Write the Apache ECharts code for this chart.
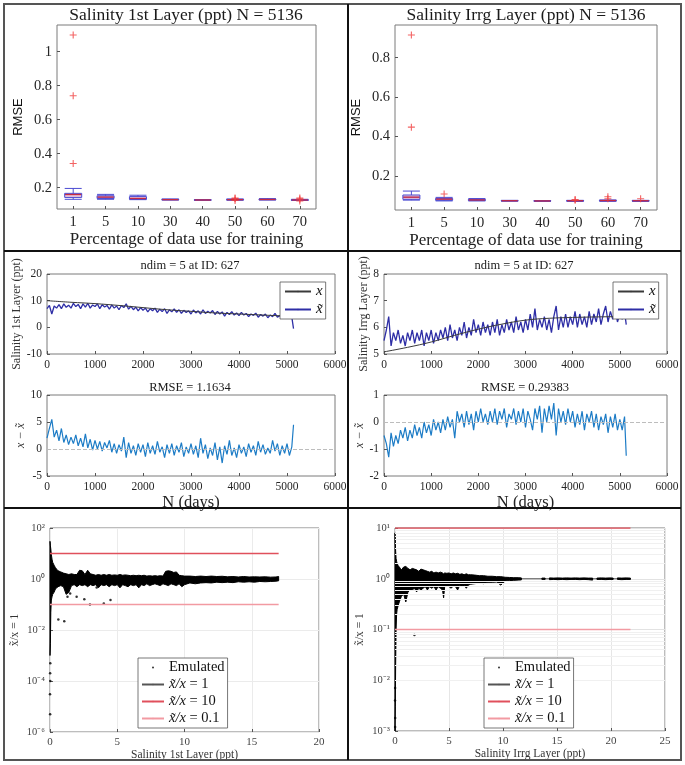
<!DOCTYPE html>
<html><head><meta charset="utf-8">
<script src="https://cdn.jsdelivr.net/npm/echarts@6/dist/echarts.min.js"></script>
<style>html,body{margin:0;padding:0;background:#fff}#c{width:685px;height:765px}</style>
</head><body><div id="c"></div>
<script>
// ---------- data ----------
const trainPct = ['1','5','10','30','40','50','60','70'];
// [min, Q1, median, Q3, max]
const rmse1Box = [[0.132,0.143,0.160,0.167,0.196],[0.132,0.137,0.145,0.153,0.161],[0.130,0.132,0.137,0.148,0.156],[0.128,0.129,0.130,0.132,0.134],[0.126,0.127,0.128,0.129,0.130],[0.127,0.128,0.130,0.132,0.134],[0.128,0.129,0.131,0.133,0.136],[0.125,0.126,0.128,0.130,0.132]];
const rmse1Out = [['1',1.098],['1',0.741],['1',0.343],['50',0.140],['50',0.125],['50',0.136],['70',0.139],['70',0.122],['70',0.133]];
const rmse2Box = [[0.078,0.082,0.093,0.104,0.124],[0.074,0.077,0.083,0.087,0.092],[0.074,0.076,0.079,0.082,0.086],[0.073,0.074,0.075,0.076,0.077],[0.072,0.073,0.074,0.075,0.076],[0.072,0.073,0.075,0.076,0.077],[0.072,0.074,0.076,0.077,0.079],[0.072,0.073,0.075,0.076,0.077]];
const rmse2Out = [['1',0.915],['1',0.448],['5',0.109],['50',0.081],['50',0.077],['60',0.095],['60',0.085],['70',0.085]];

const dayStep = 50, lastDay = 5136;
const coarseDays = [0,500,1000,1500,2000,2500,3000,3500,4000,4500,5000,5136];
const x1Coarse = [10,9.4,8.9,8.2,7.4,6.6,6.0,5.4,5.0,4.6,4.2,4.0];
const x2Coarse = [5.08,5.25,5.45,5.7,5.93,6.12,6.27,6.34,6.37,6.39,6.4,6.4];
const xt1 = [7.0,8.2,5.0,8.0,7.2,8.5,7.0,8.8,7.5,8.3,
 7.2,9.0,7.8,8.6,7.0,8.8,7.6,9.0,7.2,8.4,
 7.8,8.8,7.0,8.5,7.6,8.2,6.8,8.4,7.2,8.0,
 6.6,8.2,7.4,8.8,6.8,7.9,6.6,7.6,6.2,7.4,
 6.4,7.2,5.8,7.0,6.2,7.2,5.6,6.8,5.9,7.0,
 5.2,6.6,5.8,6.9,5.6,6.6,5.2,6.4,5.6,6.2,
 5.0,6.5,5.4,6.2,5.0,6.6,5.2,6.0,5.4,6.3,
 4.8,6.0,5.0,5.8,4.2,5.6,4.8,5.9,4.6,5.4,
 4.4,5.6,4.6,5.2,4.0,5.0,4.5,5.3,3.8,4.8,
 4.2,5.0,3.6,4.6,4.0,5.2,3.8,4.4,4.0,5.0,
 3.6,4.4,3.8,-0.5];
const res1 = [2.0,3.8,5.5,2.2,3.5,1.5,3.8,1.2,2.6,0.8,
 2.2,1.0,2.6,0.6,2.0,0.4,2.8,0.2,1.8,-0.2,
 1.6,0.0,1.4,-0.4,1.2,0.2,1.6,-0.6,1.0,-0.8,
 0.8,-0.4,2.2,-1.6,1.2,-0.8,0.6,-1.2,1.0,-0.6,
 0.8,-1.4,1.2,-0.8,0.6,-1.0,1.4,-0.6,0.4,-1.6,
 0.8,-0.8,1.0,-1.2,0.6,-0.6,1.2,-1.4,0.4,-0.8,
 1.0,-1.0,0.6,-1.6,2.0,-0.8,0.8,-1.8,0.2,-1.2,
 1.2,-2.0,0.4,-2.6,0.6,-1.0,1.6,-1.2,0.2,-1.6,
 0.8,-0.8,0.4,-1.4,1.0,-0.6,0.6,-1.2,1.4,-0.6,
 0.8,-1.0,0.2,-0.8,1.6,-0.4,1.0,-1.2,0.6,-0.8,
 1.0,-1.2,0.4,4.5];
const xt2 = [5.5,5.9,6.4,5.3,5.8,5.5,5.9,5.4,5.7,5.3,
 5.8,5.5,5.9,5.4,5.8,5.5,5.9,5.3,5.8,5.5,
 5.9,5.4,5.8,5.5,5.9,5.6,6.0,5.5,6.1,5.6,
 5.9,5.5,6.0,5.7,6.2,5.6,6.0,5.7,6.3,5.8,
 6.1,5.7,6.2,5.8,6.1,5.7,6.2,5.8,6.3,5.7,
 6.1,5.8,6.3,5.9,6.2,5.8,6.4,5.9,6.2,5.8,
 6.3,5.9,6.5,6.0,6.7,5.9,6.3,6.0,6.4,5.9,
 6.3,5.8,6.4,6.8,5.9,6.4,6.0,6.5,6.0,6.4,
 6.1,6.6,6.0,6.5,6.1,6.4,6.0,6.6,6.1,6.5,
 6.2,6.7,6.1,6.5,6.8,6.2,6.6,6.3,6.7,6.2,
 6.5,6.3,6.6,6.1];
const res2 = [-0.5,-0.8,-1.3,-0.4,-0.9,-0.5,-0.8,-0.3,-0.6,-0.2,
 -0.7,-0.3,-0.6,-0.1,-0.5,-0.2,-0.6,0.0,-0.4,-0.1,
 -0.5,0.1,-0.3,0.0,-0.4,0.1,-0.3,0.2,-0.2,0.1,
 -0.6,0.4,0.0,0.3,-0.2,0.4,-0.1,0.3,-0.3,0.4,
 0.0,0.5,0.0,0.3,-0.1,0.4,0.0,0.5,-0.1,0.4,
 0.1,0.5,-0.2,0.3,0.1,0.5,-0.1,0.4,0.0,0.5,
 -0.2,0.4,0.1,-0.3,0.5,0.1,0.6,-0.4,0.5,0.0,
 0.6,0.1,0.7,-0.5,0.5,0.0,0.4,-0.1,0.5,0.0,
 0.4,-0.2,0.3,-0.1,0.4,-0.3,0.3,0.0,0.4,-0.2,
 0.3,-0.3,0.2,-0.1,0.3,-0.4,0.2,-0.2,0.3,-0.3,
 0.1,-0.3,0.2,-1.25];

// emulated ratio bands (x position, upper and lower envelope of the dots)
const band1X  = [0,0.03,0.06,0.1,0.15,0.2,0.3,0.4,0.5,0.6,0.8,1.0,1.2,1.4,1.6,1.8,2.0,2.2,2.4,2.6,2.8,3.0,3.2,3.4,3.6,3.8,4.0,4.2,4.4,4.6,4.8,5.0,5.2,5.4,5.6,5.8,6.0,6.2,6.4,6.6,6.8,7.0,7.2,7.4,7.6,7.8,8.0,8.2,8.4,8.6,8.8,9.0,9.2,9.4,9.6,9.8,10.0,10.4,10.8,11.2,11.6,12.0,12.4,12.8,13.2,13.6,14.0,14.4,14.8,15.2,15.6,16.0,16.4,16.8,17.0];
const band1Hi = [30,20,15,9,6,4.5,3.5,2.8,2.4,2.1,1.9,1.7,1.6,1.5,1.6,1.5,1.5,2.2,2.1,1.5,2.2,1.6,1.5,1.4,1.5,1.4,1.5,1.4,1.5,1.4,1.45,1.4,1.5,1.4,1.45,1.4,1.35,1.4,1.35,1.4,1.35,1.4,1.3,1.35,1.3,1.35,1.3,1.35,1.3,2.0,2.1,2.0,1.8,1.9,1.4,1.35,1.3,1.3,1.25,1.3,1.25,1.3,1.25,1.28,1.22,1.25,1.2,1.25,1.2,1.22,1.2,1.22,1.18,1.2,1.25];
const band1Lo = [0.001,0.003,0.05,0.15,0.2,0.25,0.3,0.4,0.45,0.5,0.55,0.5,0.25,0.3,0.55,0.6,0.5,0.6,0.55,0.6,0.5,0.6,0.55,0.6,0.45,0.6,0.55,0.6,0.5,0.6,0.55,0.6,0.45,0.6,0.55,0.5,0.6,0.55,0.6,0.45,0.6,0.55,0.65,0.55,0.6,0.65,0.6,0.55,0.65,0.6,0.55,0.65,0.6,0.55,0.65,0.5,0.6,0.7,0.65,0.7,0.72,0.7,0.75,0.72,0.75,0.72,0.78,0.75,0.78,0.75,0.8,0.78,0.8,0.82,0.85];
const dots1 = [[0.02,5e-4],[0.01,2e-4],[0.02,1e-4],[0.0,3e-5],[0.01,5e-6],[0.62,0.026],[1.06,0.022],[1.98,0.2],[2.55,0.16],[2.97,0.1],[3.47,0.46],[4.0,0.11],[4.5,0.15],[1.3,0.2],[1.5,0.27]];
const band2X  = [0,0.03,0.06,0.1,0.15,0.2,0.3,0.4,0.5,0.6,0.8,1.0,1.2,1.4,1.6,1.8,2.0,2.2,2.4,2.6,2.8,3.0,3.2,3.4,3.6,3.8,4.0,4.2,4.4,4.5,4.6,4.8,5.0,5.2,5.4,5.6,5.8,6.0,6.2,6.4,6.6,6.8,7.0,7.4,7.8,8.2,8.6,9.0,9.4,9.8,10.2,10.6,11.0,11.4,11.7,12.0,13.6,13.9,14.1,14.3,14.7,15.1,15.5,15.9,16.3,16.7,17.1,17.5,17.9,18.3,18.5,18.7,19.1,19.5,19.9,20.2,20.4,20.6,21.0,21.4,21.8];
const band2Hi = [8,5,3.5,2.5,2.2,2.0,1.8,1.7,1.6,1.5,1.7,1.75,1.6,1.5,1.6,1.55,1.5,1.4,1.55,1.5,1.45,1.4,1.35,1.4,1.3,1.35,1.3,1.35,1.3,1.25,1.3,1.28,1.3,1.25,1.3,1.25,1.28,1.22,1.25,1.2,1.25,1.2,1.2,1.18,1.15,1.15,1.12,1.12,1.1,1.1,1.07,1.06,1.05,1.05,1.04,null,1.03,1.03,null,1.04,1.03,1.04,1.03,1.04,1.03,1.04,1.03,1.04,1.03,1.03,null,1.03,1.04,1.03,1.04,1.03,null,1.04,1.03,1.04,1.03];
const band2Lo = [0.001,0.003,0.02,0.1,0.2,0.25,0.3,0.35,0.4,0.45,0.5,0.35,0.55,0.6,0.6,0.65,0.55,0.65,0.6,0.65,0.7,0.6,0.7,0.65,0.7,0.6,0.7,0.65,0.6,0.42,0.7,0.72,0.7,0.65,0.72,0.7,0.6,0.75,0.7,0.75,0.65,0.75,0.78,0.8,0.82,0.8,0.85,0.85,0.86,0.75,0.9,0.92,0.93,0.94,0.95,null,0.97,0.97,null,0.96,0.97,0.96,0.97,0.96,0.97,0.97,0.96,0.97,0.96,0.94,null,0.97,0.97,0.96,0.97,0.97,null,0.97,0.96,0.97,0.97];
const dots2 = [[1.8,0.078],[0.01,0.0012],[0.02,0.0018],[0.0,0.004],[0.01,0.007]];
const ref1X = [0, 17];
const ref2X = [0, 21.8];
const ratioLevels = [1, 10, 0.1];
const ratioNames = ['x\u0303/x = 1', 'x\u0303/x = 10', 'x\u0303/x = 0.1'];

// ---------- helpers ----------
const F = 'Liberation Serif';
const ZW = '\u200B';
const SUP = {'-':'\u207B','0':'\u2070','1':'\u00B9','2':'\u00B2','3':'\u00B3','4':'\u2074','5':'\u2075','6':'\u2076','7':'\u2077','8':'\u2078','9':'\u2079'};
const logLab = v => { const e = Math.round(Math.log10(v)); return '10' + String(e).split('').map(c => SUP[c]).join(''); };
const plainLab = v => String(v);
const daySeries = arr => arr.map((v, i) => [i === arr.length - 1 ? lastDay : i * dayStep, v]);
const tickStyle = {show: true, inside: true, length: 3, lineStyle: {color: '#555'}};
function grid(l, t, w, h) { return {left: l, top: t, width: w, height: h, show: true, borderColor: '#7a7a7a', borderWidth: 1, containLabel: false}; }
function axis(gi, o) {
  return Object.assign({gridIndex: gi, axisLine: {show: false, onZero: false}, axisTick: tickStyle, splitLine: {show: false},
    nameTextStyle: {fontFamily: F, color: '#222'}}, o);
}
const lab = (size, extra) => Object.assign({fontFamily: F, fontSize: size, color: '#262626', margin: 5}, extra || {});
const boxFmt = v => (Math.abs(v * 5 - Math.round(v * 5)) < 1e-6 ? String(+v.toFixed(1)) : '');

const grids = [
  grid(57, 25, 259, 184), grid(395, 25, 262, 185),
  grid(47, 274, 288, 80), grid(47, 395, 288, 81),
  grid(384, 274, 283, 80), grid(384, 395, 283, 81),
  grid(50, 528, 269, 204), grid(395, 528, 270, 203)
];

const xAxes = [
  axis(0, {type: 'category', data: trainPct, axisTick: Object.assign({alignWithLabel: true}, tickStyle), axisLabel: lab(14.5, {margin: 6}),
    name: 'Percentage of data use for training', nameLocation: 'middle', nameGap: 22, nameTextStyle: {fontFamily: F, fontSize: 17, color: '#222'}}),
  axis(1, {type: 'category', data: trainPct, axisTick: Object.assign({alignWithLabel: true}, tickStyle), axisLabel: lab(14.5, {margin: 6}),
    name: 'Percentage of data use for training', nameLocation: 'middle', nameGap: 22, nameTextStyle: {fontFamily: F, fontSize: 17, color: '#222'}}),
  axis(2, {type: 'value', min: 0, max: 6000, interval: 1000, axisLabel: lab(11.5, {formatter: plainLab})}),
  axis(3, {type: 'value', min: 0, max: 6000, interval: 1000, axisLabel: lab(11.5, {formatter: plainLab}),
    name: 'N (days)', nameLocation: 'middle', nameGap: 14, nameTextStyle: {fontFamily: F, fontSize: 16.5, color: '#222'}}),
  axis(4, {type: 'value', min: 0, max: 6000, interval: 1000, axisLabel: lab(11.5, {formatter: plainLab})}),
  axis(5, {type: 'value', min: 0, max: 6000, interval: 1000, axisLabel: lab(11.5, {formatter: plainLab}),
    name: 'N (days)', nameLocation: 'middle', nameGap: 14, nameTextStyle: {fontFamily: F, fontSize: 16.5, color: '#222'}}),
  axis(6, {type: 'value', min: 0, max: 20, interval: 5, axisLabel: lab(11, {color: '#444'}),
    splitLine: {show: true, lineStyle: {color: '#ebebeb'}},
    name: 'Salinity 1st Layer (ppt)', nameLocation: 'middle', nameGap: 16, nameTextStyle: {fontFamily: F, fontSize: 11.5, color: '#333'}}),
  axis(7, {type: 'value', min: 0, max: 25, interval: 5, axisLabel: lab(11, {color: '#444'}),
    splitLine: {show: true, lineStyle: {color: '#e6e6e6'}},
    name: 'Salinity Irrg Layer (ppt)', nameLocation: 'middle', nameGap: 16, nameTextStyle: {fontFamily: F, fontSize: 11.5, color: '#333'}})
];

const yAxes = [
  axis(0, {type: 'value', min: 0.075, max: 1.157, splitNumber: 5, axisLabel: lab(14.5, {formatter: boxFmt, showMinLabel: false, showMaxLabel: false}),
    name: 'RMSE', nameLocation: 'middle', nameRotate: 90, nameGap: 32, nameTextStyle: {fontFamily: 'Liberation Sans', fontSize: 13, color: '#111'}}),
  axis(1, {type: 'value', min: 0.028, max: 0.966, splitNumber: 5, axisLabel: lab(14.5, {formatter: boxFmt, showMinLabel: false, showMaxLabel: false}),
    name: 'RMSE', nameLocation: 'middle', nameRotate: 90, nameGap: 32, nameTextStyle: {fontFamily: 'Liberation Sans', fontSize: 13, color: '#111'}}),
  axis(2, {type: 'value', min: -10, max: 20, interval: 10, axisLabel: lab(11.5),
    name: 'Salinity 1st Layer (ppt)', nameLocation: 'middle', nameRotate: 90, nameGap: 23, nameTextStyle: {fontFamily: F, fontSize: 12, color: '#333'}}),
  axis(3, {type: 'value', min: -5, max: 10, interval: 5, axisLabel: lab(11.5),
    name: 'x \u2212 x\u0303', nameLocation: 'middle', nameRotate: 90, nameGap: 19, nameTextStyle: {fontFamily: F, fontSize: 12, fontStyle: 'italic', color: '#333'}}),
  axis(4, {type: 'value', min: 5, max: 8, interval: 1, axisLabel: lab(11.5),
    name: 'Salinity Irrg Layer (ppt)', nameLocation: 'middle', nameRotate: 90, nameGap: 14, nameTextStyle: {fontFamily: F, fontSize: 12, color: '#333'}}),
  axis(5, {type: 'value', min: -2, max: 1, interval: 1, axisLabel: lab(11.5),
    name: 'x \u2212 x\u0303', nameLocation: 'middle', nameRotate: 90, nameGap: 12, nameTextStyle: {fontFamily: F, fontSize: 12, fontStyle: 'italic', color: '#333'}}),
  axis(6, {type: 'log', logBase: 10, min: 1e-6, max: 100, interval: 2, axisLabel: lab(10.5, {color: '#444', formatter: logLab}),
    splitLine: {show: true, lineStyle: {color: '#ebebeb'}},
    name: 'x\u0303/x = 1', nameLocation: 'middle', nameRotate: 90, nameGap: 29, nameTextStyle: {fontFamily: F, fontSize: 11.5, color: '#333'}}),
  axis(7, {type: 'log', logBase: 10, min: 1e-3, max: 10, interval: 1, axisLabel: lab(10.5, {color: '#444', formatter: logLab}),
    splitLine: {show: true, lineStyle: {color: '#e2e2e2'}},
    name: 'x\u0303/x = 1', nameLocation: 'middle', nameRotate: 90, nameGap: 29, nameTextStyle: {fontFamily: F, fontSize: 11.5, color: '#333'}})
];

const plusSym = 'path://M5,0L5,10M0,5L10,5';
const minorVals = [];
for (let e = -3; e <= 0; e++) for (let m = 2; m <= 9; m++) minorVals.push(m * Math.pow(10, e));

function boxSeries(gi, boxes, outs) {
  return [
    {type: 'boxplot', xAxisIndex: gi, yAxisIndex: gi, data: boxes, boxWidth: [17, 17], silent: true,
      itemStyle: {color: '#ecc8dc', borderColor: '#4b4bd2', borderWidth: 1}},
    {type: 'scatter', xAxisIndex: gi, yAxisIndex: gi, data: boxes.map((b, i) => [trainPct[i], b[2]]), symbol: 'rect', symbolSize: [16, 1.3], silent: true,
      itemStyle: {color: '#e52020'}, z: 4},
    {type: 'scatter', xAxisIndex: gi, yAxisIndex: gi, data: outs, symbol: plusSym, symbolSize: 7, silent: true,
      itemStyle: {color: 'rgba(0,0,0,0)', borderColor: '#f03c3c', borderWidth: 1.1}, z: 5}
  ];
}
function tsSeries(gTop, gBot, xc, xt, res, sfx) {
  return [
    {type: 'line', name: 'x' + sfx, xAxisIndex: gTop, yAxisIndex: gTop, data: coarseDays.map((d, i) => [d, xc[i]]), smooth: 0.4, symbol: 'none',
      lineStyle: {color: '#3a3a3a', width: 1}, itemStyle: {color: '#3a3a3a'}, z: 3},
    {type: 'line', name: 'x\u0303' + sfx, xAxisIndex: gTop, yAxisIndex: gTop, data: daySeries(xt), symbol: 'none',
      lineStyle: {color: '#2e2ea6', width: 1.3}, itemStyle: {color: '#2e2ea6'}, z: 2},
    {type: 'line', xAxisIndex: gBot, yAxisIndex: gBot, data: [], symbol: 'none', z: 1,
      markLine: {silent: true, symbol: ['none', 'none'], label: {show: false}, data: [{yAxis: 0}], lineStyle: {color: '#bdbdbd', type: 'dashed', width: 1}}},
    {type: 'line', xAxisIndex: gBot, yAxisIndex: gBot, data: daySeries(res), symbol: 'none',
      lineStyle: {color: '#1d7cc6', width: 1.2}, z: 2}
  ];
}
// band drawn as filled envelope polygons through the axes' scales
function bandSeries(gi, bx, bh, bl) {
  const segs = []; let cur = [];
  bx.forEach((x, i) => { if (bh[i] == null) { if (cur.length) segs.push(cur); cur = []; } else cur.push(i); });
  if (cur.length) segs.push(cur);
  return {type: 'custom', xAxisIndex: gi, yAxisIndex: gi, data: [[bx[0], 1]], silent: true, z: 3,
    renderItem: (params, api) => ({type: 'group', children: segs.map(seg => {
      const up = seg.map(i => api.coord([bx[i], bh[i]]));
      const dn = seg.slice().reverse().map(i => api.coord([bx[i], bl[i]]));
      return {type: 'polygon', shape: {points: up.concat(dn)}, style: {fill: '#000', stroke: '#000', lineWidth: 1}};
    })})
  };
}
const refColors = ['#555555', '#e0505c', '#f29aa2'];
function ratioSeries(gi, bx, bh, bl, dots, refX, sfx, withMinor) {
  const s = [
    {type: 'scatter', name: 'Emulated' + sfx, xAxisIndex: gi, yAxisIndex: gi, data: dots, symbolSize: 2.5, itemStyle: {color: '#000'}, z: 4, silent: true},
    bandSeries(gi, bx, bh, bl)
  ];
  ratioLevels.forEach((lv, k) => s.push({type: 'line', name: ratioNames[k] + sfx, xAxisIndex: gi, yAxisIndex: gi,
    data: refX.map(x => [x, lv]), symbol: 'none', lineStyle: {color: refColors[k], width: k === 0 ? 1.2 : 1.6}, itemStyle: {color: refColors[k]}, z: k === 0 ? 2 : 5, silent: true}));
  if (withMinor) s.push({type: 'line', xAxisIndex: gi, yAxisIndex: gi, data: [], symbol: 'none', z: 0,
    markLine: {silent: true, symbol: ['none', 'none'], label: {show: false}, data: minorVals.map(v => ({yAxis: v})), lineStyle: {color: '#f0f0f0', type: 'solid', width: 1}}});
  return s;
}

const series = [].concat(
  boxSeries(0, rmse1Box, rmse1Out), boxSeries(1, rmse2Box, rmse2Out),
  tsSeries(2, 3, x1Coarse, xt1, res1, ''), tsSeries(4, 5, x2Coarse, xt2, res2, ZW),
  ratioSeries(6, band1X, band1Hi, band1Lo, dots1, ref1X, '', false),
  ratioSeries(7, band2X, band2Hi, band2Lo, dots2, ref2X, ZW, true)
);

const ttl = (text, cx, top, size) => ({text, left: cx, top, textAlign: 'center', padding: 0,
  textStyle: {fontFamily: F, fontSize: size, fontWeight: 'normal', color: '#1a1a1a'}});
const titles = [
  ttl('Salinity 1st Layer (ppt) N = 5136', 186, 6, 17.5),
  ttl('Salinity Irrg Layer (ppt) N = 5136', 526, 6, 17.5),
  ttl('ndim = 5 at ID: 627', 190, 259, 12.5),
  ttl('ndim = 5 at ID: 627', 524, 259, 12.5),
  ttl('RMSE = 1.1634', 190, 381, 12.5),
  ttl('RMSE = 0.29383', 525, 381, 12.5)
];

const legBase = {orient: 'vertical', selectedMode: false, itemHeight: 2, borderColor: '#555', borderWidth: 0.8, backgroundColor: '#fff', z: 10};
const midLeg = (left, sfx) => Object.assign({}, legBase, {data: ['x' + sfx, 'x\u0303' + sfx], left, top: 282, itemWidth: 26, itemGap: 3, padding: [2, 3, 2, 4],
  formatter: n => n.replace(ZW, ''),
  textStyle: {fontFamily: F, fontSize: 15, fontStyle: 'italic', color: '#111'}});
const botLeg = (left, sfx) => Object.assign({}, legBase, {data: ['Emulated'].concat(ratioNames).map(n => n + sfx), left, top: 658, itemWidth: 22, itemGap: 2, padding: [2, 3, 2, 3],
  formatter: raw => { const n = raw.replace(ZW, ''); return n.indexOf('/x') > 0 ? '{i|' + n.slice(0, 4) + '}{r|' + n.slice(4) + '}' : '{r|' + n + '}'; },
  textStyle: {fontFamily: F, fontSize: 14.5, color: '#111',
    rich: {i: {fontFamily: F, fontSize: 14.5, fontStyle: 'italic', color: '#111'}, r: {fontFamily: F, fontSize: 14.5, color: '#111'}}}});

const borders = [
  {type: 'rect', shape: {x: 4, y: 4, width: 677, height: 756}, style: {fill: 'none', stroke: '#555', lineWidth: 2}, z: 100, silent: true},
  {type: 'line', shape: {x1: 348, y1: 4, x2: 348, y2: 760}, style: {stroke: '#111', lineWidth: 2}, z: 100, silent: true},
  {type: 'line', shape: {x1: 4, y1: 251, x2: 681, y2: 251}, style: {stroke: '#111', lineWidth: 2}, z: 100, silent: true},
  {type: 'line', shape: {x1: 4, y1: 508, x2: 681, y2: 508}, style: {stroke: '#111', lineWidth: 2}, z: 100, silent: true}
];

const chart = echarts.init(document.getElementById('c'), null, {renderer: 'canvas'});
chart.setOption({
  animation: false,
  backgroundColor: '#fff',
  textStyle: {fontFamily: F},
  title: titles,
  legend: [midLeg(280, ''), midLeg(613, ZW), botLeg(138, ''), botLeg(484, ZW)],
  grid: grids, xAxis: xAxes, yAxis: yAxes, series,
  graphic: borders
});
</script></body></html>
